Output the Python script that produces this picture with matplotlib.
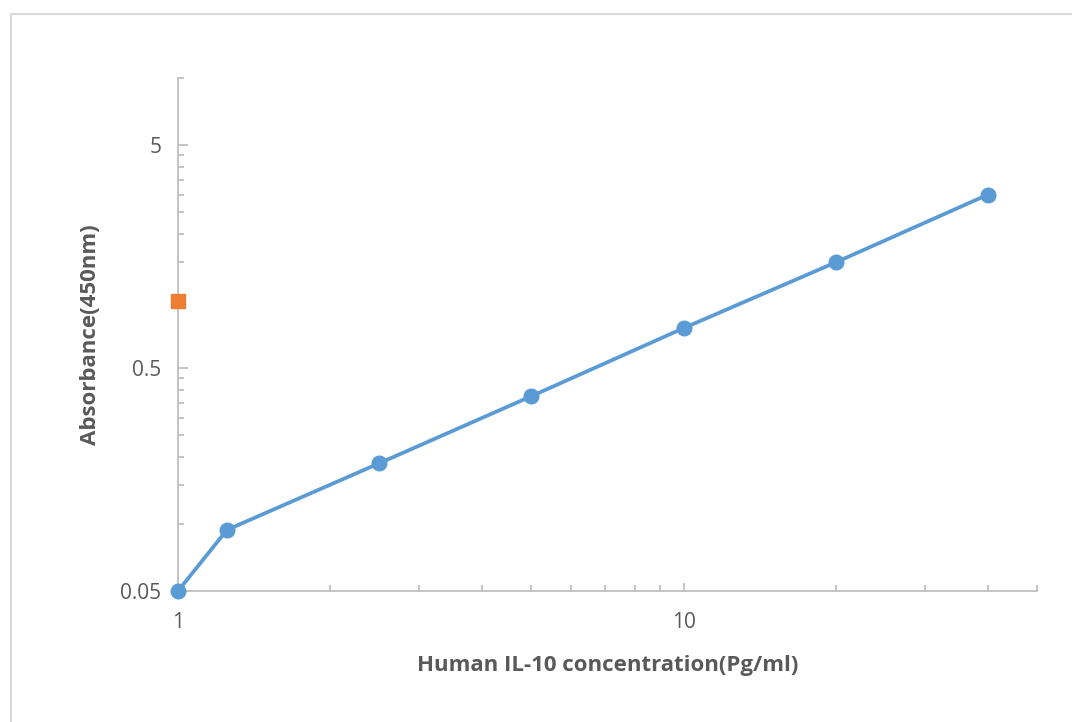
import matplotlib.pyplot as plt
from matplotlib.ticker import FixedLocator, FixedFormatter, NullFormatter
from matplotlib.patches import Rectangle

# standard curve values
conc = [1, 1.25, 2.5, 5, 10, 20, 40]
absorbance = [0.05, 0.094, 0.187, 0.374, 0.755, 1.49, 3.0]

# second series (single orange point)
sample_conc = [1]
sample_abs = [1.0]

x_major = [1, 10]
x_minor = [2, 3, 4, 5, 6, 7, 8, 9, 20, 30, 40, 50]
y_major = [0.05, 0.5, 5]
y_major_labels = ["0.05", "0.5", "5"]
y_minor = [0.1, 0.15, 0.2, 0.25, 0.3, 0.35, 0.4, 0.45,
           1, 1.5, 2, 2.5, 3, 3.5, 4, 4.5, 10]

grey = "#bfbfbf"
text_col = "#595959"
blue = "#5b9bd5"
orange = "#ed7d31"

plt.rcParams["font.family"] = ["Open Sans", "DejaVu Sans"]

fig = plt.figure(figsize=(10.72, 7.22), dpi=100)
fig.patches.append(Rectangle((11 / 1072, -0.1), 1.2, 1 - 14 / 722 + 0.1,
                             transform=fig.transFigure, fill=False,
                             edgecolor="#d9d9d9", linewidth=1.5))

ax = fig.add_axes([178 / 1072, 1 - 591 / 722, (1037 - 178) / 1072, (591 - 78) / 722])
ax.set_xscale("log")
ax.set_yscale("log")
ax.set_xlim(1, 50)
ax.set_ylim(0.05, 10)

ax.plot(conc, absorbance, color=blue, linewidth=2.7, marker="o",
        markersize=10.5, clip_on=False, zorder=3)
ax.plot(sample_conc, sample_abs, linestyle="none", marker="s", color=orange,
        markersize=10, clip_on=False, zorder=4)

for side in ["top", "right"]:
    ax.spines[side].set_visible(False)
for side in ["left", "bottom"]:
    ax.spines[side].set_color(grey)
    ax.spines[side].set_linewidth(1.3)

ax.xaxis.set_major_locator(FixedLocator(x_major))
ax.xaxis.set_major_formatter(FixedFormatter(["1", "10"]))
ax.xaxis.set_minor_locator(FixedLocator(x_minor))
ax.xaxis.set_minor_formatter(NullFormatter())
ax.yaxis.set_major_locator(FixedLocator(y_major))
ax.yaxis.set_major_formatter(FixedFormatter(y_major_labels))
ax.yaxis.set_minor_locator(FixedLocator(y_minor))
ax.yaxis.set_minor_formatter(NullFormatter())

ax.tick_params(axis="both", which="both", direction="in", color=grey, width=1.3,
               labelcolor=text_col, labelsize=15)
ax.tick_params(axis="y", which="major", length=7, pad=12)
ax.tick_params(axis="y", which="minor", length=4.5)
ax.tick_params(axis="x", which="major", length=6, pad=15)
ax.tick_params(axis="x", which="minor", length=4)

ax.set_xlabel("Human IL-10 concentration(Pg/ml)", fontsize=16, fontweight="bold",
              color=text_col, labelpad=16)
ax.set_ylabel("Absorbance(450nm)", fontsize=16, fontweight="bold",
              color=text_col, labelpad=14)

fig.savefig("out.png", dpi=100)
